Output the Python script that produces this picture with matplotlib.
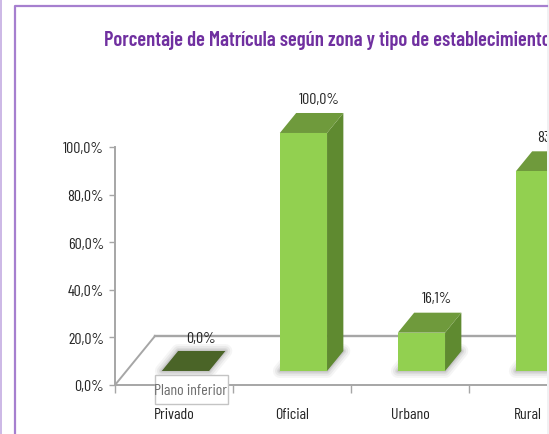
import matplotlib.pyplot as plt
from matplotlib.patches import Polygon, Rectangle
from matplotlib.transforms import Bbox

categories = ["Privado", "Oficial", "Urbano", "Rural"]
values = [0.0, 100.0, 16.1, 83.9]
value_labels = ["0,0%", "100,0%", "16,1%", "83,9%"]
y_ticks = [0, 20, 40, 60, 80, 100]
y_tick_labels = ["0,0%", "20,0%", "40,0%", "60,0%", "80,0%", "100,0%"]
title = "Porcentaje de Matrícula según zona y tipo de establecimiento"

W, H = 549, 435
plt.rcParams["font.family"] = ["Barlow Condensed", "Liberation Sans", "DejaVu Sans"]

# pixels per data unit, the floor runs back 40 px across and 49 px up
UX, UY = 118.0, 2.38
DX, DY = 40 / UX, 49 / UY
FRONT, BACK = 0.286, 0.694
HALF = 0.2

GREY = "#a6a6a6"
TEXT = "#262626"

fig = plt.figure(figsize=(W / 100, H / 100), dpi=100, facecolor="white")
ax = fig.add_axes([115 / W, (H - 386) / H, (547 - 115) / W, 386 / H])
ax.set_xlim(-0.5, (547 - 115) / UX - 0.5)
ax.set_ylim(0, 386 / UY)
ax.patch.set_alpha(0)

# chart frame
fig.add_artist(Rectangle((0, 0), 2 / W, 1, transform=fig.transFigure,
                         fc="#cdb9e6", ec="none"))
fig.add_artist(Rectangle((547 / W, 0), 2 / W, 1, transform=fig.transFigure,
                         fc="#f1f1f3", ec="none"))
fig.add_artist(plt.Line2D([14.5 / W, 14.5 / W, 547 / W], [0, (H - 7) / H, (H - 7) / H],
                          transform=fig.transFigure, color="#a67fcf", lw=1.6))

t = fig.text(104 / W, (H - 41) / H, title, color="#7030a0", fontsize=14.8,
             fontweight=600, va="center", ha="left")
t.set_clip_on(True)
t.set_clip_box(Bbox([[0, 0], [547, H]]))

# axes
for s in ["top", "right"]:
    ax.spines[s].set_visible(False)
for s in ["left", "bottom"]:
    ax.spines[s].set_color(GREY)
    ax.spines[s].set_linewidth(1.4)
ax.spines["left"].set_bounds(0, 100)
ax.set_yticks(y_ticks)
ax.set_yticklabels(y_tick_labels, fontsize=11.5, color=TEXT)
ax.tick_params(axis="y", length=4, width=1, color=GREY, pad=4)
ax.set_xticks([i - 0.5 for i in range(4)])
ax.set_xticklabels([])
ax.set_xticks(range(4), labels=categories, minor=True)
ax.tick_params(axis="x", which="major", length=6, width=1, color=GREY)
ax.tick_params(axis="x", which="minor", length=0, pad=15.5, labelsize=11.5, labelcolor=TEXT)

# floor edges
ax.plot([-0.5, -0.5 + DX], [0, DY], color=GREY, lw=1.4, zorder=1)
ax.plot([-0.5 + DX, 4], [DY, DY], color=GREY, lw=1.7, zorder=1)


def depth(x, y, d):
    return (x + DX * d, y + DY * d)


for i, (v, lab) in enumerate(zip(values, value_labels)):
    x0, x1 = i - HALF, i + HALF
    foot = [depth(x0, 0, FRONT), depth(x1, 0, FRONT), depth(x1, 0, BACK), depth(x0, 0, BACK)]
    # soft floor shadow
    for lw, a in [(10, 0.07), (7, 0.1), (4, 0.14), (2, 0.18)]:
        ax.add_patch(Polygon(foot, fc="#7f7f7f", ec="#7f7f7f", lw=lw, alpha=a,
                             joinstyle="round", zorder=2))
    if v == 0:
        ax.add_patch(Polygon(foot, fc="#4a6427", ec="none", zorder=3))
    else:
        front = [depth(x0, 0, FRONT), depth(x1, 0, FRONT), depth(x1, v, FRONT), depth(x0, v, FRONT)]
        side = [depth(x1, 0, FRONT), depth(x1, 0, BACK), depth(x1, v, BACK), depth(x1, v, FRONT)]
        top = [depth(x0, v, FRONT), depth(x1, v, FRONT), depth(x1, v, BACK), depth(x0, v, BACK)]
        ax.add_patch(Polygon(side, fc="#5f8a30", ec="none", zorder=3))
        ax.add_patch(Polygon(top, fc="#6f9a3c", ec="none", zorder=3))
        ax.add_patch(Polygon(front, fc="#92d050", ec="none", zorder=4))
    # label sits over the back of the bar
    lx, ly = depth(i, v, BACK)
    ax.annotate(lab, (lx, ly), xytext=(-0.5, 7.5 if v else 9.5), textcoords="offset points",
                ha="center", va="baseline" if v else "center", fontsize=11.5, color=TEXT,
                annotation_clip=False, clip_on=True, zorder=6)

# tooltip left over from the screenshot
fig.add_artist(Rectangle((155 / W, (H - 405) / H), 73 / W, 29 / H, transform=fig.transFigure,
                         fc="white", ec="#c4c4c4", lw=1, zorder=8))
fig.text(191 / W, (H - 391) / H, "Plano inferior", color="#6e6e6e", fontsize=11.5,
         ha="center", va="center", zorder=9)

fig.savefig("out.png", dpi=100)
